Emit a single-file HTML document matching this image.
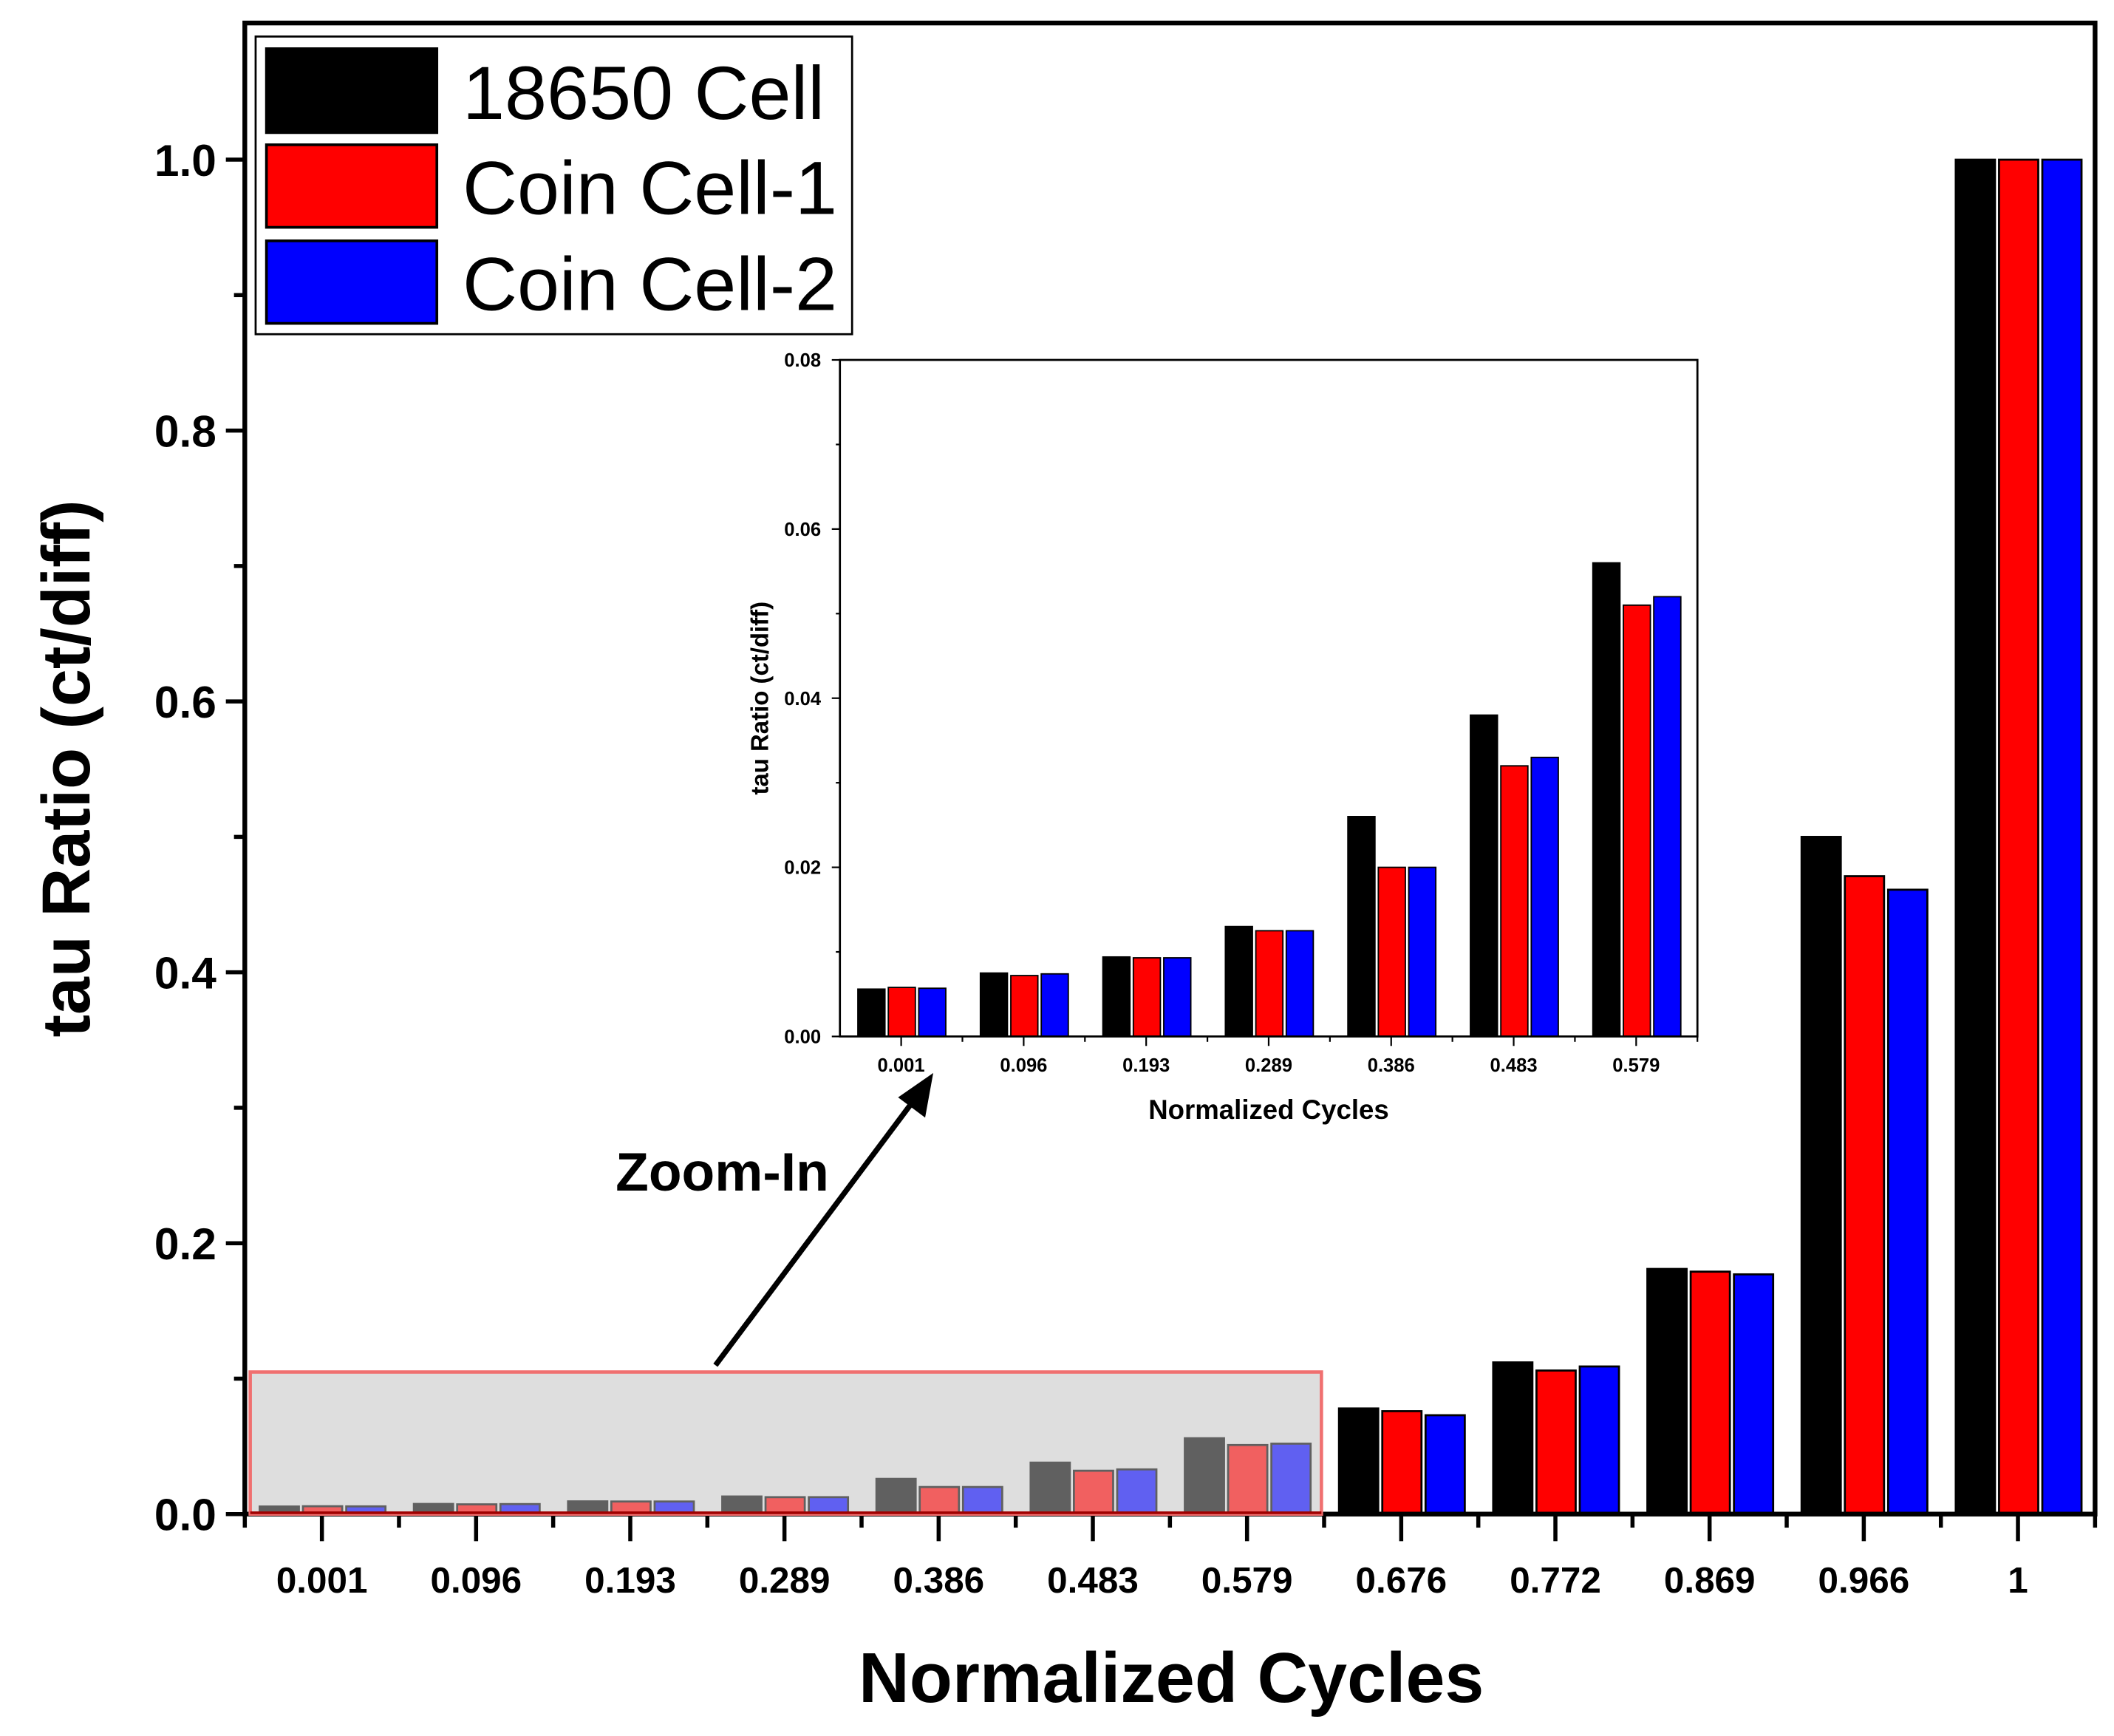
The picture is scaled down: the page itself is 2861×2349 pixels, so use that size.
<!DOCTYPE html>
<html><head><meta charset="utf-8"><style>
html,body{margin:0;padding:0;background:#fff;}
svg{display:block;}
text{font-family:"Liberation Sans",sans-serif;}
.n{font-family:"Liberation Sans Narrow","Liberation Sans",sans-serif;}
</style></head><body>
<svg id="chart" width="2861" height="2349" viewBox="0 0 1563 1283" preserveAspectRatio="none" xmlns="http://www.w3.org/2000/svg">
<rect x="185" y="1014" width="792" height="105" fill="#dedede"/>
<g id="main"></g>
<g id="overlay"></g>
<g id="inset"></g>
<g id="legend">
  <rect x="189" y="27" width="441" height="220" fill="#fff" stroke="#000" stroke-width="1.5"/>
  <rect x="197" y="36" width="126" height="62" fill="#000" stroke="#000" stroke-width="2"/>
  <rect x="197" y="107" width="126" height="61" fill="#ff0000" stroke="#000" stroke-width="2"/>
  <rect x="197" y="178" width="126" height="61" fill="#0000ff" stroke="#000" stroke-width="2"/>
  <text class="n" x="342" y="88" font-size="56">18650 Cell</text>
  <text class="n" x="342" y="158" font-size="56">Coin Cell-1</text>
  <text class="n" x="342" y="229" font-size="56">Coin Cell-2</text>
</g>
<g>
  <line x1="529" y1="1009" x2="678" y2="810" stroke="#000" stroke-width="4"/>
  <polygon points="690,793 664,811 684,826" fill="#000"/>
  <text x="534" y="880" font-size="40" font-weight="bold" text-anchor="middle">Zoom-In</text>
</g>
</svg>
<script>
const categories = ["0.001","0.096","0.193","0.289","0.386","0.483","0.579","0.676","0.772","0.869","0.966","1"];
const cell18650 = [0.0056,0.0075,0.0094,0.013,0.026,0.038,0.056,0.078,0.112,0.181,0.500,1.0];
const coinCell1 = [0.0058,0.0072,0.0093,0.0125,0.020,0.032,0.051,0.076,0.106,0.179,0.471,1.0];
const coinCell2 = [0.0057,0.0074,0.0093,0.0125,0.020,0.033,0.052,0.073,0.109,0.177,0.461,1.0];
const mainYTicks = ["0.0","0.2","0.4","0.6","0.8","1.0"];
const insetCategories = ["0.001","0.096","0.193","0.289","0.386","0.483","0.579"];
const insetYTicks = ["0.00","0.02","0.04","0.06","0.08"];
const colors = ["#000000","#ff0000","#0000ff"];
const seriesNames = ["18650","coin1","coin2"];
const NS = "http://www.w3.org/2000/svg";
function mk(tag, attrs, parent, txt){const e=document.createElementNS(NS,tag);for(const k in attrs)e.setAttribute(k,attrs[k]);if(txt!==undefined)e.textContent=txt;parent.appendChild(e);return e;}
const series=[cell18650,coinCell1,coinCell2];

// main axes
const M={l:181,r:1549,t:17,b:1119,ymax:1.0985};
const my=v=>M.b-v*1001;
const band=(M.r-M.l)/categories.length;
const mx=i=>M.l+band*(i+0.5);
const g=document.getElementById('main');
categories.forEach((c,i)=>{
  series.forEach((s,k)=>{
    const r=mk('rect',{x:mx(i)-46+k*32,y:my(s[i]),width:29,height:M.b-my(s[i]),fill:colors[k],stroke:'#000','stroke-width':1.5},g);
    
    
  });
  mk('line',{x1:mx(i),x2:mx(i),y1:M.b,y2:M.b+20,stroke:'#000','stroke-width':3},g);
  mk('line',{x1:M.l+band*(i+1),x2:M.l+band*(i+1),y1:M.b,y2:M.b+10,stroke:'#000','stroke-width':3},g);
  const t=mk('text',{x:mx(i),y:1177,'font-size':27,'font-weight':'bold','text-anchor':'middle',class:'n'},g,c);
  
  
});
mk('line',{x1:M.l,x2:M.l,y1:M.b,y2:M.b+10,stroke:'#000','stroke-width':3},g);
mainYTicks.forEach((lab,i)=>{
  const v=parseFloat(lab);
  mk('line',{x1:M.l-14,x2:M.l,y1:my(v),y2:my(v),stroke:'#000','stroke-width':3},g);
  if(i<mainYTicks.length-1) mk('line',{x1:M.l-8,x2:M.l,y1:my(v+0.1),y2:my(v+0.1),stroke:'#000','stroke-width':3},g);
  const t=mk('text',{x:160,y:my(v)+12,'font-size':33,'font-weight':'bold','text-anchor':'end',class:'n'},g,lab);
  
  
});
mk('rect',{x:M.l,y:M.t,width:M.r-M.l,height:M.b-M.t,fill:'none',stroke:'#000','stroke-width':3.5},g);
let t1=mk('text',{x:866,y:1258,'font-size':52,'font-weight':'bold','text-anchor':'middle'},g,'Normalized Cycles');


let t2=mk('text',{x:0,y:0,'font-size':50,'font-weight':'bold','text-anchor':'middle',transform:'translate(66,568) rotate(-90)'},g,'tau Ratio (ct/diff)');



// overlay
const o=document.getElementById('overlay');
const ov=mk('rect',{x:185,y:1014,width:792,height:105,fill:'#dedede','fill-opacity':0.43,stroke:'#f07070','stroke-width':2.5},o);


mk('line',{x1:185,x2:977,y1:1118,y2:1118,stroke:'#a00000','stroke-width':2},o);

// inset
const I={l:621,r:1255,t:266,b:766};
const iy=v=>I.b-v*6250;
const ib=(I.r-I.l)/insetCategories.length;
const ix=i=>I.l+ib*(i+0.5);
const h=document.getElementById('inset');
mk('rect',{x:I.l,y:I.t,width:I.r-I.l,height:I.b-I.t,fill:'#fff',stroke:'none'},h);
insetCategories.forEach((c,i)=>{
  series.forEach((s,k)=>{
    const r=mk('rect',{x:ix(i)-32+k*22.5,y:iy(s[i]),width:20,height:I.b-iy(s[i]),fill:colors[k],stroke:'#000','stroke-width':1},h);
    
    
  });
  mk('line',{x1:ix(i),x2:ix(i),y1:I.b,y2:I.b+7,stroke:'#000','stroke-width':1.2},h);
  mk('line',{x1:I.l+ib*(i+1),x2:I.l+ib*(i+1),y1:I.b,y2:I.b+4,stroke:'#000','stroke-width':1.2},h);
  const t=mk('text',{x:ix(i),y:792,'font-size':14,'font-weight':'bold','text-anchor':'middle',class:'n'},h,c);
  
  
});
insetYTicks.forEach((lab,i)=>{
  const v=parseFloat(lab);
  mk('line',{x1:I.l-6,x2:I.l,y1:iy(v),y2:iy(v),stroke:'#000','stroke-width':1.2},h);
  if(i<insetYTicks.length-1) mk('line',{x1:I.l-3,x2:I.l,y1:iy(v+0.01),y2:iy(v+0.01),stroke:'#000','stroke-width':1.2},h);
  const t=mk('text',{x:607,y:iy(v)+5,'font-size':14,'font-weight':'bold','text-anchor':'end',class:'n'},h,lab);
  
  
});
mk('rect',{x:I.l,y:I.t,width:I.r-I.l,height:I.b-I.t,fill:'none',stroke:'#000','stroke-width':1.5},h);
let t3=mk('text',{x:938,y:827,'font-size':20,'font-weight':'bold','text-anchor':'middle'},h,'Normalized Cycles');


let t4=mk('text',{x:0,y:0,'font-size':18,'font-weight':'bold','text-anchor':'middle',transform:'translate(568,516) rotate(-90)'},h,'tau Ratio (ct/diff)');


</script>
</body></html>
